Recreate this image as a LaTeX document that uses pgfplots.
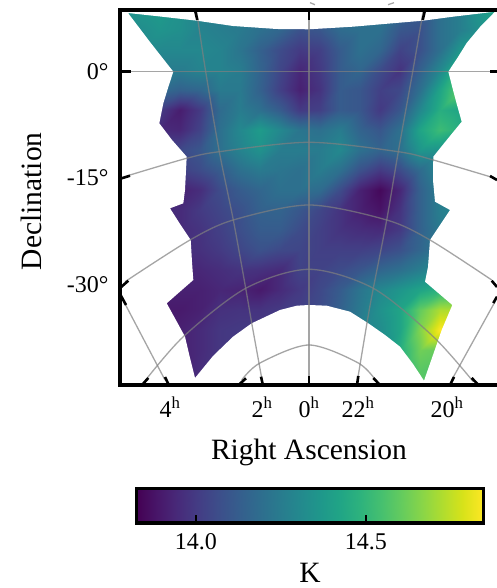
\documentclass[border=0pt]{standalone}
\usepackage{pgfplots}
\pgfplotsset{compat=1.18}
\usepackage{fontspec}
\setmainfont{Liberation Serif}
\begin{document}
\begin{tikzpicture}[x=1bp,y=1bp]
\path[use as bounding box] (0,0) rectangle (497,588);
\begin{axis}[
  at={(120bp,203bp)},anchor=south west,
  scale only axis,width=392bp,height=375bp,
  xmin=120,xmax=512,ymin=10,ymax=385,y dir=reverse,
  clip=false,axis on top,
  axis line style={line width=3.3bp,black},
  major tick length=0pt,
  xtick={170,262,309,358,447},
  xticklabels={4\textsuperscript{h},2\textsuperscript{h},0\textsuperscript{h},22\textsuperscript{h},20\textsuperscript{h}},
  ytick={71.7,178,285},
  yticklabels={0°,-15°,-30°},
  tick label style={font=\fontsize{24bp}{26bp}\selectfont},
  xticklabel style={yshift=-8bp},
  yticklabel style={xshift=-8bp},
  xlabel={Right Ascension},
  ylabel={Declination},
  xlabel style={font=\fontsize{29.5bp}{32bp}\selectfont,at={(axis description cs:0.482,-0.18)},anchor=center},
  ylabel style={font=\fontsize{29.5bp}{32bp}\selectfont,at={(axis description cs:-0.227,0.49)},anchor=center},
  colormap/viridis,point meta min=13.83,point meta max=14.84,
]
\addplot[surf,shader=interp,mesh/cols=20,forget plot,point meta=explicit] table[row sep=crcr,header=false,
  x expr={120+20*mod(\coordindex,20)},
  y expr={min(10+20*floor(\coordindex/20),385)},
  meta index=0]{%
14.35\\14.36\\14.38\\14.34\\14.28\\14.25\\14.26\\14.22\\14.20\\14.16\\14.15\\14.20\\14.22\\14.22\\14.18\\14.12\\14.20\\14.26\\14.36\\14.44\\%
14.30\\14.32\\14.35\\14.33\\14.28\\14.26\\14.24\\14.20\\14.16\\14.08\\14.10\\14.18\\14.20\\14.20\\14.10\\14.08\\14.20\\14.26\\14.34\\14.42\\%
14.30\\14.30\\14.30\\14.30\\14.30\\14.28\\14.22\\14.14\\14.06\\14.00\\14.02\\14.12\\14.20\\14.16\\14.03\\14.08\\14.20\\14.36\\14.38\\14.40\\%
14.25\\14.25\\14.25\\14.25\\14.28\\14.28\\14.25\\14.15\\14.04\\13.94\\14.00\\14.12\\14.16\\14.06\\13.98\\14.14\\14.30\\14.52\\14.50\\14.50\\%
14.15\\14.15\\14.18\\14.14\\14.16\\14.24\\14.24\\14.14\\14.02\\13.92\\13.98\\14.12\\14.10\\14.02\\14.05\\14.20\\14.42\\14.60\\14.60\\14.60\\%
14.00\\14.00\\14.00\\13.91\\14.00\\14.18\\14.25\\14.20\\14.12\\14.00\\14.02\\14.12\\14.10\\14.00\\14.10\\14.30\\14.46\\14.42\\14.42\\14.42\\%
13.95\\13.95\\13.95\\13.94\\14.03\\14.20\\14.30\\14.38\\14.30\\14.22\\14.20\\14.25\\14.15\\14.10\\14.20\\14.42\\14.52\\14.46\\14.46\\14.46\\%
14.05\\14.05\\14.05\\14.05\\14.10\\14.20\\14.28\\14.34\\14.25\\14.25\\14.25\\14.30\\14.20\\14.15\\14.20\\14.36\\14.35\\14.35\\14.35\\14.35\\%
14.00\\14.00\\14.00\\14.02\\14.06\\14.12\\14.20\\14.24\\14.22\\14.20\\14.25\\14.20\\14.08\\14.00\\14.06\\14.18\\14.30\\14.30\\14.30\\14.30\\%
13.92\\13.92\\13.92\\13.92\\13.96\\14.06\\14.12\\14.16\\14.20\\14.20\\14.18\\14.06\\13.92\\13.85\\13.94\\14.14\\14.26\\14.26\\14.26\\14.26\\%
13.95\\13.95\\13.95\\13.95\\14.00\\14.04\\14.08\\14.14\\14.15\\14.10\\14.04\\13.98\\13.92\\13.88\\13.98\\14.14\\14.26\\14.30\\14.30\\14.30\\%
13.95\\13.95\\13.95\\13.95\\13.98\\14.02\\14.07\\14.12\\14.12\\14.06\\14.02\\13.98\\13.96\\13.95\\14.00\\14.14\\14.24\\14.24\\14.24\\14.24\\%
13.96\\13.96\\13.96\\13.96\\13.97\\14.00\\14.04\\14.08\\14.05\\14.04\\14.02\\14.02\\14.02\\14.04\\14.08\\14.16\\14.24\\14.28\\14.28\\14.28\\%
13.93\\13.93\\13.93\\13.93\\13.94\\13.96\\13.98\\13.97\\13.95\\14.03\\14.03\\14.06\\14.10\\14.16\\14.20\\14.26\\14.32\\14.34\\14.34\\14.34\\%
13.94\\13.94\\13.94\\13.92\\13.92\\13.94\\13.93\\13.90\\13.95\\14.00\\14.05\\14.12\\14.22\\14.30\\14.36\\14.42\\14.48\\14.50\\14.50\\14.50\\%
13.90\\13.90\\13.90\\13.90\\13.92\\13.97\\13.98\\13.98\\14.00\\14.02\\14.06\\14.14\\14.24\\14.34\\14.42\\14.60\\14.72\\14.72\\14.72\\14.72\\%
13.92\\13.92\\13.92\\13.92\\13.95\\13.99\\14.00\\14.00\\14.00\\14.00\\14.10\\14.16\\14.26\\14.32\\14.42\\14.65\\14.84\\14.84\\14.84\\14.84\\%
13.92\\13.92\\13.92\\13.92\\13.95\\13.99\\14.00\\14.00\\14.00\\14.00\\14.10\\14.16\\14.26\\14.30\\14.46\\14.62\\14.60\\14.60\\14.60\\14.60\\%
13.92\\13.92\\13.92\\13.92\\13.96\\13.99\\14.00\\14.00\\14.00\\14.00\\14.10\\14.16\\14.26\\14.30\\14.46\\14.58\\14.55\\14.55\\14.55\\14.55\\%
13.92\\13.92\\13.92\\13.92\\13.96\\13.99\\14.00\\14.00\\14.00\\14.00\\14.10\\14.16\\14.26\\14.30\\14.46\\14.58\\14.55\\14.55\\14.55\\14.55\\%
};
% white mask outside the observed footprint
\addplot[fill=white,draw=none,forget plot] coordinates {
(120,8)(512,8)(512,387)(120,387)(120,8)(128,13)
(150,42)(173.3,71.7)(168,88)(163.3,103.3)(159.3,123.3)(172,140)(186.7,156.7)(185,190)(183.3,203.3)(170,208.3)(180,224)(190.7,240)(192,262)(193.3,280)(166.7,303.3)(177,322)(185,336.7)(190,358)(195,378)
(213,356)(233,336.7)(251.7,323.3)(280,310)(296.7,305.7)(309,305)(326.7,305.7)(350,311.7)(368.3,323.3)(385,335)(400,346.7)(413,364)(424,380.7)
(433,355)(441.7,330)(452.3,305)(425,281.7)(428,266.7)(430,240)(440,225)(450,210)(435,201.7)(433,180)(433.3,156.7)(446.7,140)(461.7,121.7)(457,105)(453,90)(448.3,71.7)(458,57)(466.7,43)(480,27)(495,11.7)
(453,16.7)(423,20.7)(390,23.5)(353,26.7)(309,29.3)(276.7,29)(233,26)(196.7,20.7)(160,16.5)(128,13)(120,8)
} -- cycle;
% graticule
\pgfplotsset{grat/.style={gray,opacity=0.7,line width=1.3bp,smooth,forget plot}}
\addplot[grat] coordinates {(309,10)(309,385)};
\addplot[grat] coordinates {(196.7,12)(205.7,71.7)(219.3,151.7)(233.3,220)(245.7,288.3)(251.7,323)(261.7,378)};
\addplot[grat] coordinates {(423,12)(412.7,71.7)(398.3,151.7)(386.7,220)(373.3,288.3)(368,317)(358,377)};
\addplot[grat] coordinates {(123,300)(165,380)};
\addplot[grat] coordinates {(495,301.7)(451.7,380)};
\addplot[grat] coordinates {(120,71.7)(497,71.7)};
\addplot[grat] coordinates {(130,175)(186.7,158.3)(219.3,151.7)(309,142.3)(398.3,151.7)(433.3,160)(490,176.7)};
\addplot[grat] coordinates {(125,281.7)(190,240)(233.3,220)(309,205)(386.7,220)(430,240)(491.7,280)};
\addplot[grat] coordinates {(143.3,383)(183.3,336.7)(245.7,288.3)(309,269.3)(373.3,288.3)(433.3,336.7)(473.3,381.7)};
\addplot[grat] coordinates {(241.7,380)(260,363)(309,345)(358.3,363)(376.7,381.7)};
\addplot[grat] coordinates {(310,2.7)(315,4.7)};
\addplot[grat] coordinates {(388,4.7)(394,2.7)};
% ticks along the frame
\pgfplotsset{tk/.style={black,line width=2.6bp,forget plot}}
\addplot[tk] coordinates {(120,71.7)(131,71.7)};
\addplot[tk] coordinates {(490,71.7)(497,71.7)};
\addplot[tk] coordinates {(120,178.8)(130,175.7)};
\addplot[tk] coordinates {(490,176)(497,180)};
\addplot[tk] coordinates {(120,288)(128.3,280.7)};
\addplot[tk] coordinates {(120,294)(126,305)};
\addplot[tk] coordinates {(497,287)(491.7,280.7)};
\addplot[tk] coordinates {(497,296.7)(493.3,303)};
\addplot[tk] coordinates {(142,385)(148.3,378)};
\addplot[tk] coordinates {(168.8,385)(165,377)};
\addplot[tk] coordinates {(238.5,385)(246,378.3)};
\addplot[tk] coordinates {(262.9,385)(261,376.7)};
\addplot[tk] coordinates {(309,385)(309,376)};
\addplot[tk] coordinates {(357,385)(358.3,376)};
\addplot[tk] coordinates {(380,385)(373.3,378)};
\addplot[tk] coordinates {(450,385)(454,377)};
\addplot[tk] coordinates {(478.5,385)(471.7,378)};
\addplot[tk] coordinates {(195,10)(197.3,20)};
\addplot[tk] coordinates {(309,10)(309,20)};
\addplot[tk] coordinates {(425,10)(422.7,20)};
\end{axis}
% colour bar
\begin{axis}[
  at={(136.7bp,65bp)},anchor=south west,
  scale only axis,width=346.6bp,height=34.5bp,
  xmin=13.826,xmax=14.845,ymin=0,ymax=1,
  axis on top,
  axis line style={line width=3.5bp,black},
  ytick=\empty,
  xtick={14.0,14.5},
  xticklabels={14.0,14.5},
  x tick style={black,line width=2.6bp},
  major tick length=8bp,
  tick align=inside,
  xtick pos=bottom,
  tick label style={font=\fontsize{24bp}{26bp}\selectfont},
  xticklabel style={yshift=-7bp},
  xlabel={K},
  xlabel style={font=\fontsize{29.5bp}{32bp}\selectfont,at={(axis description cs:0.5,-1.44)},anchor=center},
  colormap/viridis,point meta min=13.83,point meta max=14.84,
]
\addplot[surf,shader=interp,mesh/cols=2,point meta=x,forget plot] coordinates {
(13.826,0)(14.845,0)
(13.826,1)(14.845,1)
};
\end{axis}
\end{tikzpicture}
\end{document}
